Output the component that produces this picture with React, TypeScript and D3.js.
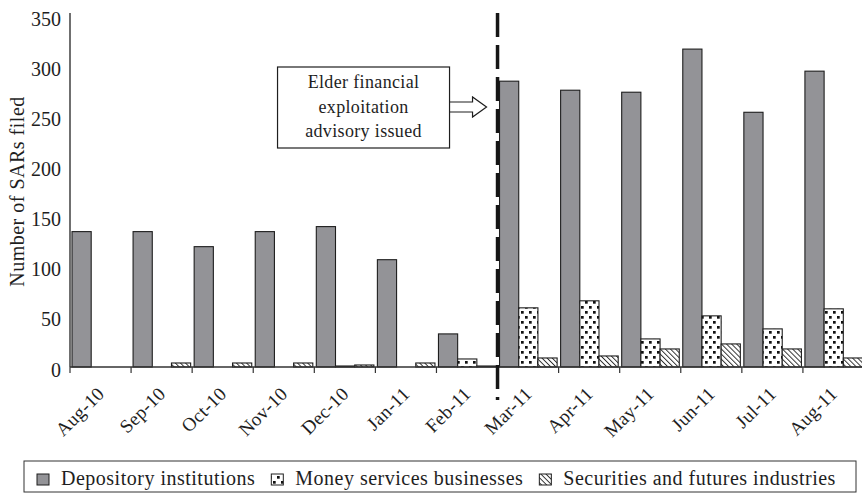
import * as React from 'react';
import * as d3 from 'd3';

const months = ['Aug-10', 'Sep-10', 'Oct-10', 'Nov-10', 'Dec-10', 'Jan-11', 'Feb-11',
    'Mar-11', 'Apr-11', 'May-11', 'Jun-11', 'Jul-11', 'Aug-11'];
const depository = [135, 135, 120, 135, 140, 107, 33, 285, 276, 274, 317, 254, 295];
const moneyServices = [0, 0, 0, 0, 1, 0, 8, 59, 66, 28, 51, 38, 58];
const securities = [0, 4, 4, 4, 2, 4, 1, 9, 11, 18, 23, 18, 9];
const seriesNames = ['Depository institutions', 'Money services businesses', 'Securities and futures industries'];
const yTicks = [0, 50, 100, 150, 200, 250, 300, 350];
const advisoryMonth = 'Mar-11';
const advisoryLines = ['Elder financial', 'exploitation', 'advisory issued'];

const width = 862;
const height = 498;
const plot = { left: 70, right: 864, top: 16, bottom: 367 };
const font = '"Liberation Serif", "Times New Roman", serif';
const ink = '#1e1e1e';

function App() {
    const svgRef = React.useRef<SVGSVGElement | null>(null);

    React.useEffect(() => {
        const svg = d3.select(svgRef.current);
        svg.selectAll('*').remove();

        const defs = svg.append('defs');
        const dots = defs.append('pattern')
            .attr('id', 'dots')
            .attr('patternUnits', 'userSpaceOnUse')
            .attr('width', 8)
            .attr('height', 10);
        dots.append('rect').attr('width', 8).attr('height', 10).attr('fill', '#fff');
        dots.append('rect').attr('x', 1).attr('y', 1).attr('width', 2.7).attr('height', 2.7).attr('fill', '#111');
        dots.append('rect').attr('x', 5).attr('y', 6).attr('width', 2.7).attr('height', 2.7).attr('fill', '#111');

        const hatch = defs.append('pattern')
            .attr('id', 'hatch')
            .attr('patternUnits', 'userSpaceOnUse')
            .attr('width', 3.6)
            .attr('height', 3.6)
            .attr('patternTransform', 'rotate(-45)');
        hatch.append('rect').attr('width', 3.6).attr('height', 3.6).attr('fill', '#fff');
        hatch.append('line').attr('x1', 0.5).attr('y1', 0).attr('x2', 0.5).attr('y2', 3.6)
            .attr('stroke', '#222').attr('stroke-width', 0.9);

        const series = [
            { name: seriesNames[0], values: depository, fill: '#939397' },
            { name: seriesNames[1], values: moneyServices, fill: 'url(#dots)' },
            { name: seriesNames[2], values: securities, fill: 'url(#hatch)' },
        ];

        const x0 = d3.scaleBand<string>().domain(months).range([plot.left, plot.right]);
        const x1 = d3.scaleBand<string>().domain(seriesNames).range([2, x0.bandwidth() - 1.5]);
        const y = d3.scaleLinear().domain([0, 350]).range([plot.bottom, plot.top]);

        // bars
        const groups = svg.append('g').selectAll('g')
            .data(series)
            .enter()
            .append('g');

        groups.selectAll('rect')
            .data(s => s.values.map((v, i) => ({ month: months[i], value: v, s })))
            .enter()
            .append('rect')
            .attr('x', d => (x0(d.month) || 0) + (x1(d.s.name) || 0))
            .attr('y', d => y(d.value))
            .attr('width', x1.bandwidth())
            .attr('height', d => y(0) - y(d.value))
            .attr('fill', d => d.s.fill)
            .attr('stroke', ink)
            .attr('stroke-width', 1.1);

        // y axis
        const yAxis = d3.axisLeft(y).tickValues(yTicks).tickSize(0).tickSizeOuter(0).tickPadding(9);
        const yAxisGroup = svg.append('g')
            .attr('transform', `translate(${plot.left},0)`)
            .call(yAxis);
        yAxisGroup.select('.domain').attr('stroke', '#333').attr('stroke-width', 1.4)
            .attr('d', `M0,${plot.top - 3}V${plot.bottom}`);
        yAxisGroup.selectAll('text')
            .attr('font-family', font)
            .attr('font-size', 20)
            .attr('fill', ink)
            .attr('dy', '0.45em');

        svg.append('text')
            .attr('transform', `translate(24,${(plot.top + plot.bottom) / 2}) rotate(-90)`)
            .attr('text-anchor', 'middle')
            .attr('font-family', font)
            .attr('font-size', 20)
            .attr('letter-spacing', 0.5)
            .attr('fill', ink)
            .text('Number of SARs filed');

        // x axis
        const xAxisGroup = svg.append('g');
        xAxisGroup.append('line')
            .attr('x1', plot.left).attr('x2', plot.right)
            .attr('y1', y(0)).attr('y2', y(0))
            .attr('stroke', '#333').attr('stroke-width', 1.4);
        xAxisGroup.selectAll('line.tick')
            .data(months)
            .enter()
            .append('line')
            .classed('tick', true)
            .attr('x1', d => x0(d) || 0).attr('x2', d => x0(d) || 0)
            .attr('y1', y(0)).attr('y2', y(0) + 6)
            .attr('stroke', '#333').attr('stroke-width', 1.2);
        xAxisGroup.selectAll('text')
            .data(months)
            .enter()
            .append('text')
            .attr('transform', d => `translate(${(x0(d) || 0) + x0.bandwidth() / 2 + 5},${y(0) + 28}) rotate(-45)`)
            .attr('text-anchor', 'end')
            .attr('font-family', font)
            .attr('font-size', 19)
            .attr('letter-spacing', 0.3)
            .attr('fill', ink)
            .text(d => d);

        // advisory marker
        const dashX = x0(advisoryMonth) || 0;
        svg.append('line')
            .attr('x1', dashX).attr('x2', dashX)
            .attr('y1', 13).attr('y2', 400)
            .attr('stroke', '#161616')
            .attr('stroke-width', 3.5)
            .attr('stroke-dasharray', '24 8');

        const tipX = dashX - 11;
        const boxRight = tipX - 37;
        const boxLeft = boxRight - 172;
        const boxTop = 67;
        const boxBottom = 148;
        const midY = 107;
        svg.append('path')
            .attr('d', `M${boxRight},${midY - 5}H${tipX - 14}V${midY - 10}L${tipX},${midY}L${tipX - 14},${midY + 10}V${midY + 5}H${boxRight}`)
            .attr('fill', '#fff')
            .attr('stroke', ink)
            .attr('stroke-width', 1.2);
        svg.append('rect')
            .attr('x', boxLeft).attr('y', boxTop)
            .attr('width', boxRight - boxLeft).attr('height', boxBottom - boxTop)
            .attr('fill', '#fff')
            .attr('stroke', ink)
            .attr('stroke-width', 1.2);
        svg.append('g').selectAll('text')
            .data(advisoryLines)
            .enter()
            .append('text')
            .attr('x', (boxLeft + boxRight) / 2)
            .attr('y', (d, i) => 88 + i * 24.5)
            .attr('text-anchor', 'middle')
            .attr('font-family', font)
            .attr('font-size', 18)
            .attr('letter-spacing', 0.35)
            .attr('fill', ink)
            .text(d => d);

        // legend
        const legend = svg.append('g');
        legend.append('rect')
            .attr('x', 24).attr('y', 461)
            .attr('width', 832).attr('height', 31)
            .attr('fill', '#fff')
            .attr('stroke', '#333')
            .attr('stroke-width', 1);
        let lx = 37;
        series.forEach(s => {
            legend.append('rect')
                .attr('x', lx).attr('y', 474)
                .attr('width', 12).attr('height', 11)
                .attr('fill', s.fill)
                .attr('stroke', ink)
                .attr('stroke-width', 1);
            const t = legend.append('text')
                .attr('x', lx + 24).attr('y', 485)
                .attr('font-family', font)
                .attr('font-size', 20)
                .attr('letter-spacing', 0.5)
                .attr('fill', ink)
                .text(s.name);
            const len = (t.node() as SVGTextElement).getComputedTextLength();
            lx = lx + 24 + len + 16;
        });
    }, []);

    return <svg
        ref={svgRef}
        width={width}
        height={height}
        style={{ position: 'absolute', left: 0, top: 0, background: '#fff' }}>
    </svg>;
}

export default App;
